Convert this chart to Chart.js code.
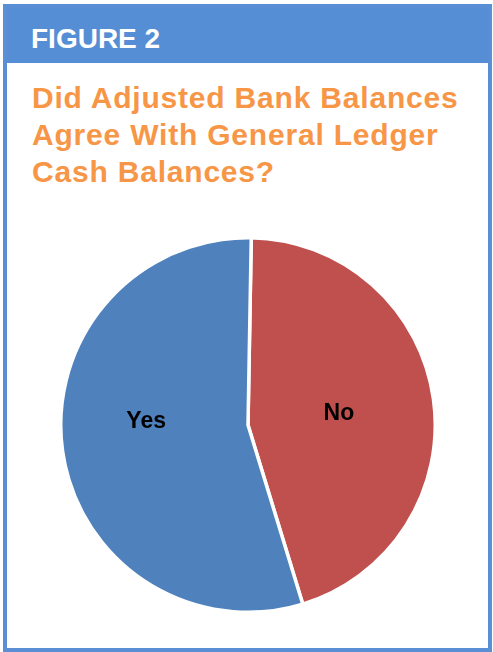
<!DOCTYPE html>
<html>
<head>
<meta charset="utf-8">
<script src="https://cdn.jsdelivr.net/npm/chart.js@4/dist/chart.umd.min.js"></script>
<style>
  html, body { margin: 0; padding: 0; background: #fff; }
  body { width: 493px; height: 652px; position: relative; overflow: hidden; font-family: "Liberation Sans", Arial, sans-serif; }
  .frame { position: absolute; left: 3px; top: 4px; width: 489px; height: 648px; box-sizing: border-box; border: 4px solid #5A8FD6; }
  .header { position: absolute; left: 0; top: 0; right: 0; height: 55px; background: #558ED5; }
  .fig { position: absolute; left: 31px; top: 24.6px; color: #fff; font-weight: bold; font-size: 28px; line-height: 28px; white-space: nowrap; }
  .title { position: absolute; left: 32px; top: 79.3px; color: #F79646; font-weight: bold; font-size: 30px; line-height: 37px; letter-spacing: 0.8px; white-space: nowrap; }
  .pie { position: absolute; left: 59px; top: 236px; width: 378px; height: 378px; }
</style>
</head>
<body>
<div class="frame"><div class="header"></div></div>
<div class="fig">FIGURE 2</div>
<div class="title">Did Adjusted Bank Balances<br>Agree With General Ledger<br>Cash Balances?</div>
<div class="pie"><canvas id="chart"></canvas></div>
<script>
// Données (parts en %).
const labels = ["No", "Yes"]
const values = [45, 55]
const colors = ["#C0504D", "#4F81BD"]

// Étiquettes dans les parts (pas de plugin datalabels hors ligne).
const sliceLabels = {
  id: "sliceLabels",
  afterDatasetsDraw(chart, args, opts) {
    const ctx = chart.ctx
    const meta = chart.getDatasetMeta(0)
    ctx.save()
    ctx.font = "bold 23px 'Liberation Sans', Arial, sans-serif"
    ctx.fillStyle = "#000"
    ctx.textAlign = "center"
    ctx.textBaseline = "alphabetic"
    meta.data.forEach((arc, i) => {
      const { x, y, startAngle, endAngle, outerRadius } = arc.getProps(["x", "y", "startAngle", "endAngle", "outerRadius"], true)
      const mid = (startAngle + endAngle) / 2
      const r = outerRadius * opts.radius
      const nudge = opts.nudge[labels[i]] || [0, 0]
      const px = x + Math.cos(mid) * r + nudge[0]
      const py = y + Math.sin(mid) * r + nudge[1]
      ctx.fillText(labels[i], px, py + 8)
    })
    ctx.restore()
  }
}

new Chart(document.getElementById("chart"), {
  type: "pie",
  data: {
    labels,
    datasets: [{
      data: values,
      backgroundColor: colors,
      borderColor: "#fff",
      borderWidth: 3.5,
      hoverOffset: 0
    }]
  },
  options: {
    responsive: true,
    maintainAspectRatio: true,
    animation: false,
    rotation: 1,
    layout: { padding: 0 },
    plugins: {
      legend: { display: false },
      tooltip: { enabled: false },
      sliceLabels: { radius: 0.49, nudge: { Yes: [-11, -18] } }
    }
  },
  plugins: [sliceLabels]
})
</script>
</body>
</html>
